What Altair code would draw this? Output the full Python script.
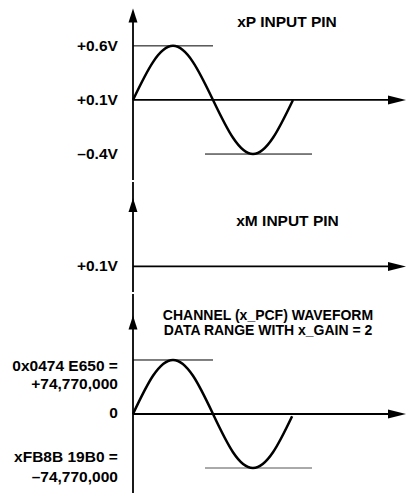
import altair as alt
import pandas as pd

FONT = "Liberation Sans"
FONT_SIZE = 15.5
TITLE_SIZE = 14
PANEL_W = 399
X_DOMAIN = [-281.25, 616.5]   # phase (degrees) across the drawing width

# ---------------- xP input pin (volts) ----------------
xp_phase = [0, 45, 90, 135, 180, 225, 270, 315, 360]
xp_volts = [0.10, 0.45, 0.60, 0.45, 0.10, -0.25, -0.40, -0.25, 0.10]
xp_labels = ["+0.6V", "+0.1V", "–0.4V"]
xp_label_values = [0.6, 0.1, -0.4]
xp_title = "xP INPUT PIN"
xp_peak, xp_trough, xp_mid = 0.6, -0.4, 0.1

# ---------------- xM input pin (volts) ----------------
xm_labels = ["+0.1V"]
xm_label_values = [0.1]
xm_title = "xM INPUT PIN"
xm_mid = 0.1

# ---------------- channel waveform codes ----------------
code_phase = [0, 45, 90, 135, 180, 225, 270, 315, 358]
code_values = [0, 52_870_000, 74_770_000, 52_870_000, 0,
               -52_870_000, -74_770_000, -52_870_000, -3_000_000]
code_labels = ["0x0474 E650 =", "+74,770,000", "0", "xFB8B 19B0 =", "–74,770,000"]
code_title = ["CHANNEL (x_PCF) WAVEFORM", "DATA RANGE WITH x_GAIN = 2"]
code_peak, code_trough, code_mid = 74_770_000, -74_770_000, 0

# ---------------- layout (data units of each panel) ----------------
UP = "M0,-1L0.64,1L-0.64,1Z"
RIGHT = "M1,0L-1,0.5L-1,-0.5Z"
AXIS_END = 574
ARROW_X = 594
LABEL_X = -34


def X(field):
    return alt.X(field, type="quantitative",
                 scale=alt.Scale(domain=X_DOMAIN, nice=False, zero=False), axis=None)


def Y(field, dom):
    return alt.Y(field, type="quantitative",
                 scale=alt.Scale(domain=dom, nice=False, zero=False), axis=None)


def panel(height, dom, mid, v_top, up_y, levels, curve, labels, titles, title_size):
    layers = []
    # vertical axis
    layers.append(alt.Chart(pd.DataFrame({"x": [0], "y": [dom[0]], "y2": [v_top]}))
                  .mark_rule(color="black", strokeWidth=1.8)
                  .encode(x=X("x"), y=Y("y", dom), y2="y2"))
    # horizontal axis
    layers.append(alt.Chart(pd.DataFrame({"x": [0], "x2": [AXIS_END], "y": [mid]}))
                  .mark_rule(color="black", strokeWidth=1.8)
                  .encode(x=X("x"), x2="x2", y=Y("y", dom)))
    # arrow heads
    layers.append(alt.Chart(pd.DataFrame({"x": [0], "y": [up_y]}))
                  .mark_point(shape=UP, size=196, filled=True, color="black",
                              opacity=1, strokeWidth=0)
                  .encode(x=X("x"), y=Y("y", dom)))
    layers.append(alt.Chart(pd.DataFrame({"x": [ARROW_X], "y": [mid]}))
                  .mark_point(shape=RIGHT, size=324, filled=True, color="black",
                              opacity=1, strokeWidth=0)
                  .encode(x=X("x"), y=Y("y", dom)))
    # peak / trough level lines
    if levels is not None:
        layers.append(alt.Chart(levels)
                      .mark_rule(strokeWidth=1)
                      .encode(x=X("x"), x2="x2", y=Y("y", dom),
                              color=alt.Color("c:N", scale=None)))
    # waveform
    if curve is not None:
        layers.append(alt.Chart(curve)
                      .mark_line(color="black", strokeWidth=2.5, interpolate="natural")
                      .encode(x=X("x"), y=Y("y", dom), order="x"))
    # level labels
    layers.append(alt.Chart(labels)
                  .mark_text(align="right", baseline="middle", font=FONT,
                             fontSize=FONT_SIZE, fontWeight="bold", color="black")
                  .encode(x=X("x"), y=Y("y", dom), text="t"))
    # titles
    layers.append(alt.Chart(titles)
                  .mark_text(align="center", baseline="middle", font=FONT,
                             fontSize=title_size, fontWeight="bold", color="black")
                  .encode(x=X("x"), y=Y("y", dom), text="t"))
    return alt.layer(*layers).properties(width=PANEL_W, height=height)


# top panel
dom1 = [-0.64, 0.95]
p1 = panel(
    172, dom1, xp_mid, 0.88, 0.881,
    pd.DataFrame({"x": [0, 162], "x2": [180, 402.75], "y": [xp_peak, xp_trough],
                  "c": ["black", "black"]}),
    pd.DataFrame({"x": xp_phase, "y": xp_volts}),
    pd.DataFrame({"x": [LABEL_X] * 3, "y": xp_label_values, "t": xp_labels}),
    pd.DataFrame({"x": [346.5], "y": [0.818], "t": [xp_title]}),
    FONT_SIZE,
)

# middle panel
dom2 = [-0.136, 0.881]
p2 = panel(
    110, dom2, xm_mid, 0.881, 0.669, None, None,
    pd.DataFrame({"x": [LABEL_X], "y": xm_label_values, "t": xm_labels}),
    pd.DataFrame({"x": [347.6], "y": [0.522], "t": [xm_title]}),
    FONT_SIZE,
)

# bottom panel
dom3 = [-109_380_000, 166_150_000]
p3 = panel(
    199, dom3, code_mid, 166_150_000, 126_700_000,
    pd.DataFrame({"x": [0, 162], "x2": [180, 402.75], "y": [code_peak, code_trough],
                  "c": ["black", "#555555"]}),
    pd.DataFrame({"x": code_phase, "y": code_values}),
    pd.DataFrame({"x": [LABEL_X] * 5,
                  "y": [66_900_000, 41_500_000, 1_500_000, -59_950_000, -87_600_000],
                  "t": code_labels}),
    pd.DataFrame({"x": [303.75, 303.75], "y": [135_000_000, 114_900_000],
                  "t": code_title}),
    TITLE_SIZE,
)

chart = (alt.vconcat(p1, p2, p3, spacing=0)
         .properties(padding=0, background="white")
         .configure_view(stroke=None)
         .configure_concat(spacing=0))

chart.save("out.html", embed_options={"renderer": "svg", "actions": False})
